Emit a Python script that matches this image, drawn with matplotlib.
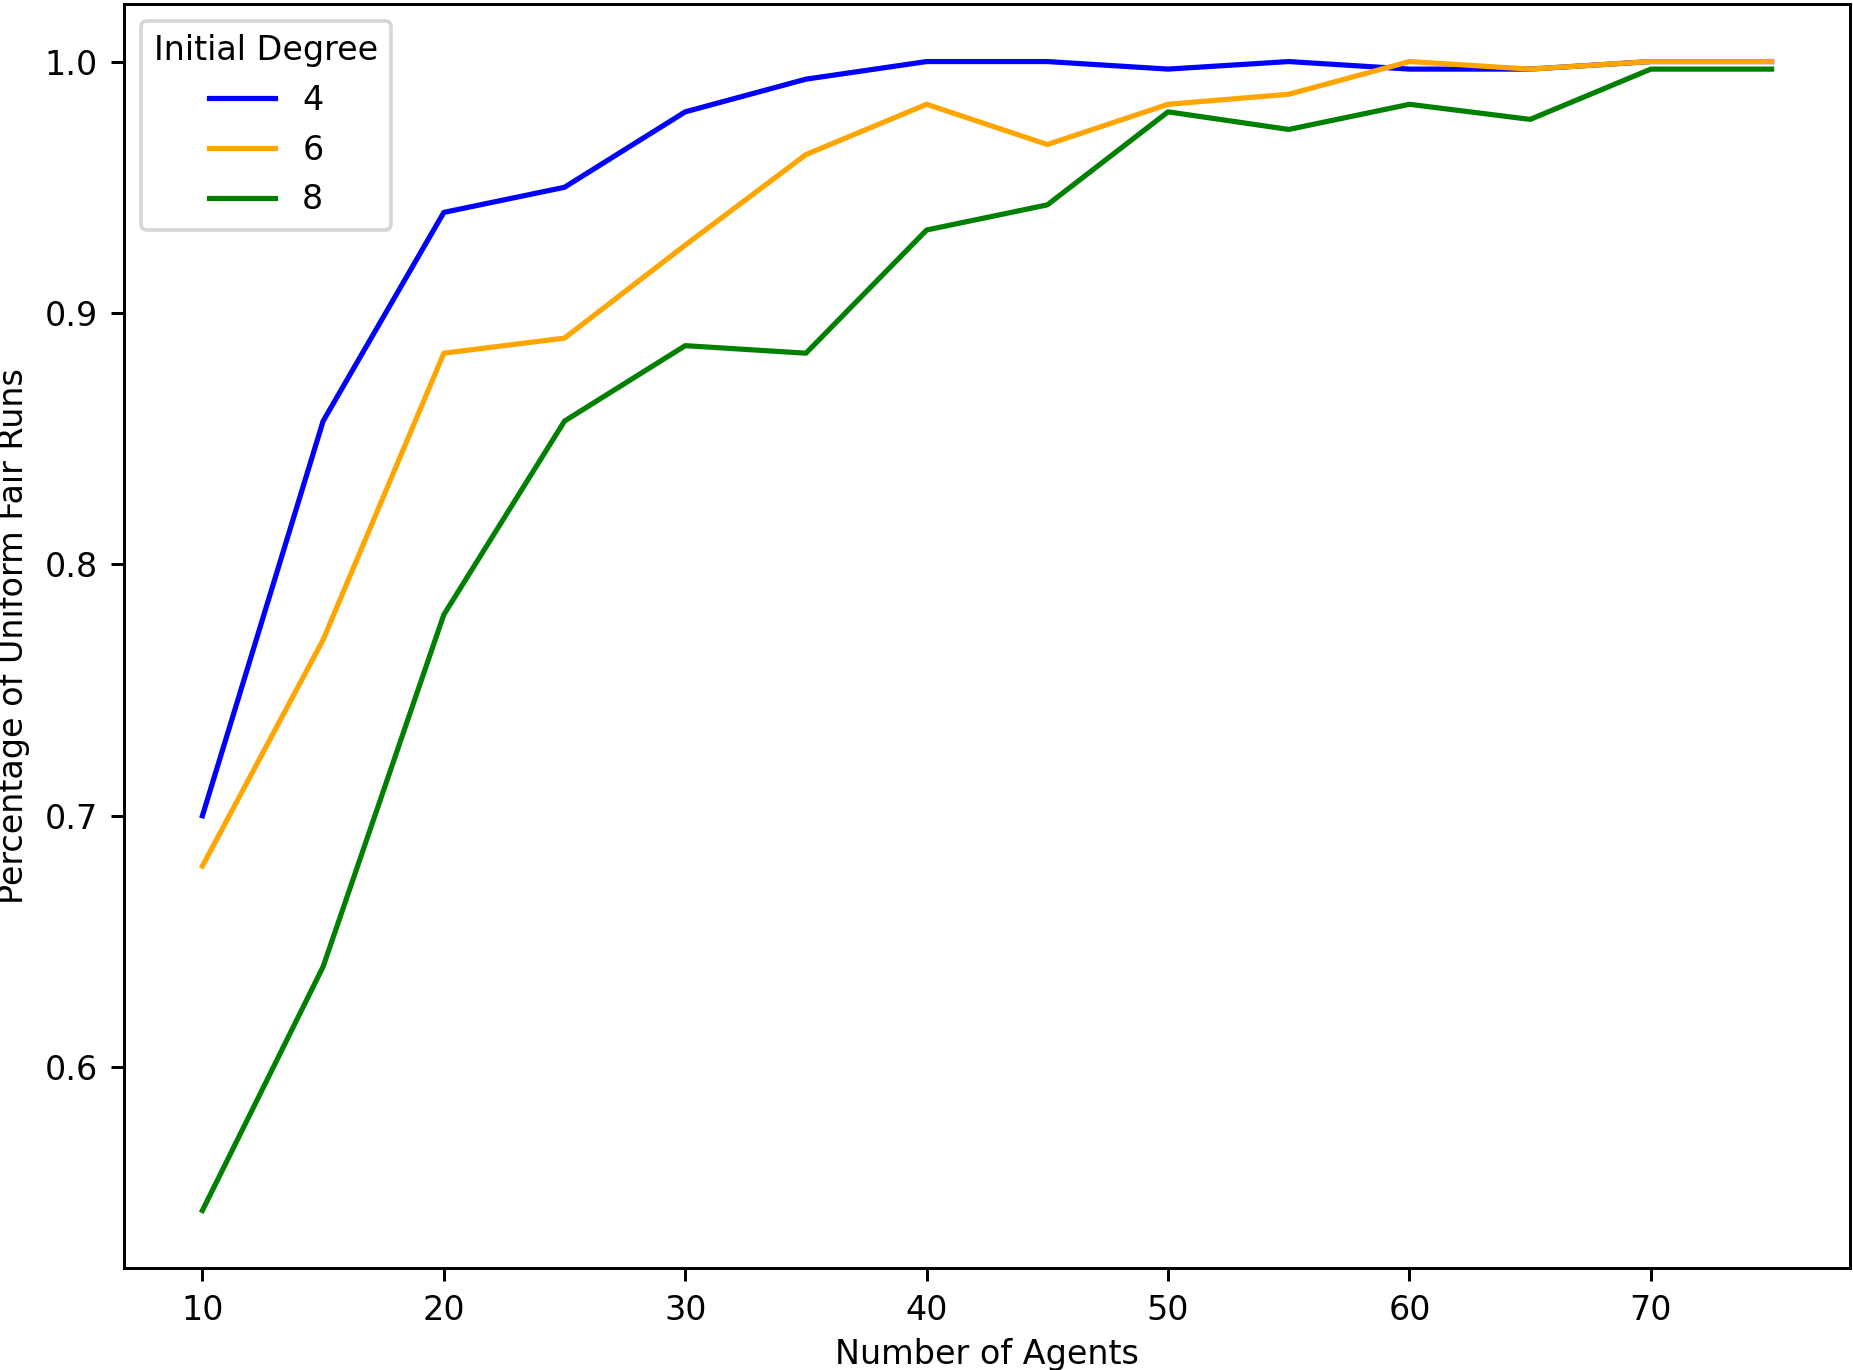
import matplotlib
matplotlib.use('Agg')
import matplotlib.pyplot as plt
from matplotlib import rcParams
rcParams.update({'font.size': 9})

#-Data
agents = [10, 15, 20, 25, 30, 35, 40, 45, 50, 55, 60, 65, 70, 75]
deg_4 = [0.700, 0.857, 0.940, 0.950, 0.980, 0.993, 1.000, 1.000, 0.997, 1.000, 0.997, 0.997, 1.000, 1.000]
deg_6 = [0.680, 0.770, 0.884, 0.890, 0.927, 0.963, 0.983, 0.967, 0.983, 0.987, 1.000, 0.997, 1.000, 1.000]
deg_8 = [0.543, 0.640, 0.780, 0.857, 0.887, 0.884, 0.933, 0.943, 0.980, 0.973, 0.983, 0.977, 0.997, 0.997]

series = [('4', deg_4, 'blue'), ('6', deg_6, 'orange'), ('8', deg_8, 'green')]

dpi = 267
fig = plt.figure(figsize=(1853 / dpi, 1370 / dpi), dpi=dpi)
ax = fig.add_axes([0.0669, 0.0745, 0.9315, 0.9225])

for lab, vals, col in series:
    ax.plot(agents, vals, color=col, lw=1.4, label=lab)

ax.set_xlabel('Number of Agents', labelpad=3)
ax.set_ylabel('Percentage of Uniform Fair Runs')
ax.legend(title='Initial Degree', loc='upper left')

fig.savefig('out.png', dpi=dpi)
